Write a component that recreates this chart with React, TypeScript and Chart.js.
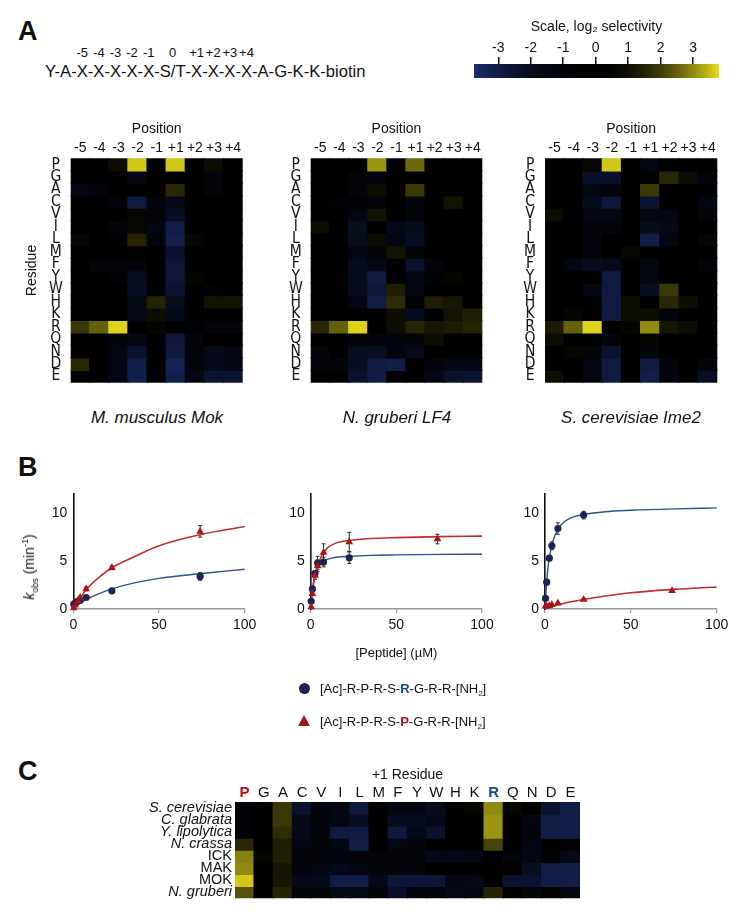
import React, { useEffect, useRef } from "react";
import { Chart, registerables } from "chart.js";
Chart.register(...registerables);

const SANS = "'Liberation Sans', Arial, Helvetica, sans-serif";
const NARROW = "'Liberation Sans Narrow', 'DejaVu Sans Condensed', 'Liberation Sans', sans-serif";

// ---------- Panel A data ----------
const POSITIONS = ["-5", "-4", "-3", "-2", "-1", "+1", "+2", "+3", "+4"];
const RESIDUES = ["P", "G", "A", "C", "V", "I", "L", "M", "F", "Y", "W", "H", "K", "R", "Q", "N", "D", "E"];

const MOK_VALUES = [
  [0, 0, 0.9, 3.6, 0, 3.6, 0, 0.9, 0],
  [0, 0, 0, -1.5, 0, 0, 0, -1.2, 0],
  [-1.5, -1.2, 0, 0, 0, 1.6, 0, -1.2, 0],
  [0, 0, -1.2, -2.9, -1.2, -1.7, 0, 0, 0],
  [0, 0, 0, 0.6, -1.2, -2.1, 0, 0, 0],
  [0, 0, -1.2, 0.6, -1.5, -3.0, 0, 0, 0],
  [0.6, 0, -0.8, 1.5, -1.2, -3.1, 0.6, 0, 0],
  [0, 0, 0, 0, 0, -2.4, 0, 0, 0],
  [0, -1.2, -1.2, -1.2, 0, -2.7, 0, 0, 0],
  [0, 0, -0.8, -2.1, 0, -2.7, 0.6, 0, 0],
  [0, 0, 0, -2.1, 0, -2.5, 0, -0.8, 0],
  [0, 0, 0, -1.7, 1.5, -1.9, 0, 1.1, 1.1],
  [0, 0, 0, -1.7, 0.9, -1.7, 0, 0, 0],
  [1.9, 2.5, 3.7, 0, 0.6, 0, -0.8, -1.2, -1.2],
  [0, 0, -1.2, -1.5, 0, -2.7, -1.2, 0, 0],
  [0, 0, -1.5, -2.4, 0, -2.8, -1.2, -1.7, -1.5],
  [1.6, 0, -1.5, -3.1, 0, -3.3, -1.2, -1.7, -1.5],
  [0, 0, -1.5, -3.1, 0, -3.1, -1.5, -2.5, -2.5],
];

const LF4_VALUES = [
  [0, 0, 0, 3.1, 0, 2.6, 0, 0, 0],
  [0, 0, -1.2, -1.2, 0, 0, 0, 0, 0],
  [0, 0, -1.2, 0.9, 0, 1.9, 0, 0, 0],
  [0, -0.8, -0.8, -1.2, 0, -1.2, 0, 1.1, 0],
  [0, 0, -1.5, 1.1, 0, -1.2, 0, 0, 0],
  [0.9, 0, -2.1, 0, -1.7, -1.9, 0, 0, 0],
  [0, 0, -1.9, 0.9, -1.5, -2.1, 0, 0, 0],
  [0, 0, -1.5, -1.2, 1.1, -1.2, 0, 0, 0],
  [0, 0, -1.9, -1.5, 0, -2.4, -1.2, 0, 0],
  [0, 0, -1.9, -2.9, 0, -1.5, -0.8, 0.6, 0],
  [0, 0, -1.9, -2.7, 1.4, -1.5, 0, 0, 0],
  [0, 0, -1.5, -3.0, 1.7, 0, 1.4, 1.2, 0],
  [0, 0, 0, 0, 0.9, -1.9, 0, 1.1, 1.4],
  [1.6, 2.5, 3.7, 0, 0.9, 1.5, 1.2, 1.3, 1.5],
  [0, 0, -1.2, -1.2, -1.2, -1.2, 0.9, 0, 0],
  [-1.2, 0, -1.9, -2.1, -1.2, -1.7, 0, 0, 0],
  [-1.2, -1.2, -2.1, -2.9, -3.0, 0, -1.2, -1.5, -1.5],
  [0, 0, -2.4, -2.9, 0, 0, -1.5, -2.4, -2.5],
];

const IME2_VALUES = [
  [0, 0, 0.6, 3.6, 0, -1.5, 0, 0, 0],
  [0, 0, -2.2, -2.2, 0, 0, 1.6, 0.9, -1.2],
  [0, 0, -1.5, -1.2, 0, 1.9, 0, 0, 0],
  [0, 0, -1.9, -2.7, 0, -2.5, 0, 0, -1.5],
  [0.9, 0, -1.5, -1.5, 0, -1.5, -1.5, 0, -1.2],
  [0, 0, -1.2, -1.2, 0, -1.9, -1.7, 0, 0],
  [0, 0, -1.2, 0, 0, -3.0, -1.5, 0, -1.2],
  [0, 0, -1.2, 0, 0.6, 0, 0, 0, 0],
  [0, -1.5, -1.9, -1.7, 0, -1.5, 0, 0, -1.2],
  [0, 0, 0, -2.9, 0, -1.5, 0, 0, 0],
  [0, 0, -1.5, -2.9, 0, -2.1, 1.9, 0, 0],
  [0, 0, 0, -2.9, 0.9, 0, 1.6, 0.9, 0],
  [0, 0.6, 0, -2.9, 0.9, 0.9, -1.2, 0, 0],
  [1.3, 2.5, 3.7, 0, 0.6, 3.0, 1.2, 0.9, 0],
  [0.9, 0, 0, -1.2, 0, 0.6, 0, 0, 0],
  [0, 0.6, -1.2, -2.4, 0, -1.2, 0, 0, 0],
  [0, 0, -1.5, -2.9, 0, -2.9, -1.2, 0, -1.2],
  [0.9, 0, -1.5, -2.9, 0, -3.0, -1.2, 0, -2.1],
];

const SCALE_TICKS = [-3, -2, -1, 0, 1, 2, 3];
const SCALE_MIN = -3.75;
const SCALE_MAX = 3.8;

const SEQ_TOKENS = ["Y", "A", "X", "X", "X", "X", "X", "S/T", "X", "X", "X", "X", "A", "G", "K", "K", "biotin"];
const SEQ_POSITIONS = ["", "", "-5", "-4", "-3", "-2", "-1", "0", "+1", "+2", "+3", "+4", "", "", "", "", ""];

// ---------- Panel B data ----------
const CONC = [0.3, 1, 2.5, 4, 7.5, 22.5, 74];
const FIT_X = [0, 1, 2, 3, 5, 7.5, 10, 15, 22.5, 35, 50, 75, 100];
const KOBS_TICKS = [0, 5, 10];
const CONC_TICKS = [0, 50, 100];

const MOK_R = [0.5, 0.6, 0.8, 0.9, 1.2, 1.9, 3.4];
const MOK_R_ERR = [0.05, 0.05, 0.1, 0.1, 0.15, 0.25, 0.4];
const MOK_P = [0.1, 0.4, 0.8, 1.2, 2.1, 4.3, 8.1];
const MOK_P_ERR = [0.05, 0.1, 0.1, 0.15, 0.2, 0.2, 0.6];
const MOK_R_FIT = [0.1, 0.25, 0.35, 0.5, 0.7, 1.0, 1.2, 1.6, 2.1, 2.7, 3.2, 3.7, 4.15];
const MOK_P_FIT = [0, 0.3, 0.6, 0.85, 1.4, 2.0, 2.5, 3.3, 4.3, 5.4, 6.6, 7.8, 8.6];

const LF4_R = [0.8, 2.1, 3.7, 4.8, 4.9, 5.35];
const LF4_R_ERR = [0.1, 0.2, 0.3, 0.7, 0.5, 0.6];
const LF4_P = [0.2, 1.6, 3.5, 4.5, 5.9, 7.0, 7.3];
const LF4_P_ERR = [0.05, 0.2, 0.4, 0.6, 0.9, 1.0, 0.5];
const LF4_R_FIT = [0, 2.0, 3.1, 3.8, 4.6, 5.0, 5.2, 5.4, 5.5, 5.6, 5.65, 5.7, 5.72];
const LF4_P_FIT = [0, 1.8, 3.0, 3.9, 5.0, 5.9, 6.4, 6.9, 7.15, 7.35, 7.45, 7.55, 7.6];

const IME2_R = [1.1, 2.8, 5.3, 6.6, 8.4, 9.8];
const IME2_R_ERR = [0.1, 0.2, 0.25, 0.4, 0.6, 0.4];
const IME2_P = [0.3, 0.3, 0.35, 0.45, 0.6, 1.0, 1.9];
const IME2_P_ERR = [0.05, 0.05, 0.05, 0.05, 0.1, 0.1, 0.15];
const IME2_R_FIT = [0, 2.9, 4.7, 5.8, 7.3, 8.3, 8.9, 9.5, 9.85, 10.15, 10.3, 10.45, 10.55];
const IME2_P_FIT = [0, 0.1, 0.15, 0.2, 0.3, 0.45, 0.55, 0.75, 1.0, 1.35, 1.7, 2.05, 2.3];

// ---------- Panel C data ----------
const SPECIES = ["S. cerevisiae", "C. glabrata", "Y. lipolytica", "N. crassa", "ICK", "MAK", "MOK", "N. gruberi"];
const SPECIES_ITALIC = [true, true, true, true, false, false, false, true];
const PLUS1_VALUES = [
  [-0.8, 0, 1.9, -2.4, -1.2, -1.5, -2.8, 0, -1.5, -1.5, -1.9, 0, 0.6, 3.0, 0.6, 0, -2.5, -3.0],
  [-0.8, 0, 1.9, -1.7, -1.2, -1.5, -2.1, 0, -1.9, -1.9, -1.7, 0, 0, 3.1, 0, -1.5, -3.0, -3.0],
  [-0.8, 0, 1.7, -1.7, -1.2, -2.9, -2.9, 0, -2.8, -1.7, -2.4, 0, 0, 3.1, 0, -1.2, -3.0, -3.0],
  [1.6, 0, 1.4, -1.5, -1.2, -1.5, -3.0, 0, -1.5, -1.2, 0, 0, 0, 2.1, 0, -1.5, 0, 0],
  [2.9, 0.6, 1.4, -1.2, -1.2, -1.2, -1.2, -1.2, -1.2, -1.2, -1.7, -1.7, -1.5, 0, -1.2, -1.5, -0.8, -1.7],
  [3.0, 0, 1.2, -1.2, -1.5, -1.7, -1.5, -1.2, -1.2, -1.2, 0, 0, 0, 0, 0, -2.1, -3.0, -3.0],
  [3.6, 0, 1.2, -1.7, -1.7, -3.0, -3.0, -1.7, -2.7, -2.7, -2.7, -1.5, -1.7, 0, -2.4, -2.4, -3.0, -3.0],
  [2.3, 0, 1.5, -1.2, -1.2, -1.7, -1.7, -1.2, -2.2, -1.2, -1.2, -1.7, -1.5, 1.5, 0, -1.2, 0, -1.5],
];

// ---------- colours ----------
const NEG_END = [25, 45, 110];
const POS_END = [232, 222, 28];
const RED = "#a5161a";
const RED_LINE = "#c42a2a";
const NAVY = "#1b2552";
const BLUE_LINE = "#304d8e";
const LABEL_RED = "#b3121b";
const LABEL_BLUE = "#1f4496";

function colorFor(v: number): string {
  const end = v >= 0 ? POS_END : NEG_END;
  const t = Math.min(1, v >= 0 ? v / SCALE_MAX : v / SCALE_MIN);
  const k = t * t;
  return `rgb(${Math.round(end[0] * k)},${Math.round(end[1] * k)},${Math.round(end[2] * k)})`;
}

// ---------- plugins ----------
const errorBarPlugin = {
  id: "errorBars",
  beforeDatasetsDraw(chart: any) {
    const { ctx } = chart;
    const ys = chart.scales.y;
    chart.data.datasets.forEach((ds: any, di: number) => {
      if (!ds.errors) return;
      const meta = chart.getDatasetMeta(di);
      ctx.save();
      ctx.strokeStyle = "#2a2a2a";
      ctx.lineWidth = 1;
      meta.data.forEach((pt: any, i: number) => {
        const e = ds.errors[i];
        if (!e) return;
        const v = ds.data[i].y;
        const y1 = ys.getPixelForValue(v + e);
        const y2 = ys.getPixelForValue(v - e);
        const x = pt.x;
        ctx.beginPath();
        ctx.moveTo(x, y1);
        ctx.lineTo(x, y2);
        ctx.moveTo(x - 2, y1);
        ctx.lineTo(x + 2, y1);
        ctx.moveTo(x - 2, y2);
        ctx.lineTo(x + 2, y2);
        ctx.stroke();
      });
      ctx.restore();
    });
  },
};

// ---------- chart builders ----------
function heatmapConfig(o: {
  cols: string[];
  rows: string[];
  values: number[][];
  yWidth: number;
  xHeight: number;
  padRight: number;
  padBottom: number;
  xTitle?: string;
  xTitlePad: number;
  xFont: any;
  xColor?: any;
  xPad: number;
  yTitle?: string;
  yFont: any;
  yPad: number;
  yAlign: string;
}) {
  const datasets = o.rows.map((r, i) => ({
    label: r,
    data: o.cols.map(() => [i - 0.5, i + 0.5]),
    backgroundColor: o.values[i].map(colorFor),
    borderWidth: 0,
    inflateAmount: 0.7,
    barPercentage: 1,
    categoryPercentage: 1,
    grouped: false,
  }));
  return {
    type: "bar",
    data: { labels: o.cols, datasets },
    options: {
      animation: false,
      responsive: false,
      events: [],
      layout: { padding: { left: 0, top: 0, right: o.padRight, bottom: o.padBottom } },
      plugins: { legend: { display: false }, tooltip: { enabled: false } },
      scales: {
        x: {
          type: "category",
          position: "top",
          grid: { display: false, drawTicks: false },
          border: { display: false },
          ticks: { autoSkip: false, maxRotation: 0, minRotation: 0, padding: o.xPad, font: o.xFont, color: o.xColor || "#111" },
          title: o.xTitle
            ? { display: true, text: o.xTitle, color: "#111", font: { family: SANS, size: 14 }, padding: { top: o.xTitlePad, bottom: 0 } }
            : { display: false },
          afterFit: (s: any) => {
            s.height = o.xHeight;
          },
        },
        y: {
          type: "linear",
          min: -0.5,
          max: o.rows.length - 0.5,
          reverse: true,
          grid: { display: false, drawTicks: false },
          border: { display: false },
          afterBuildTicks: (s: any) => {
            s.ticks = o.rows.map((_, i) => ({ value: i }));
          },
          ticks: {
            autoSkip: false,
            crossAlign: o.yAlign,
            padding: o.yPad,
            font: o.yFont,
            color: "#111",
            callback: (v: any) => o.rows[Math.round(v)],
          },
          title: o.yTitle
            ? { display: true, text: o.yTitle, color: "#111", font: { family: SANS, size: 14 }, padding: { top: 23.5, bottom: 0 } }
            : { display: false },
          afterFit: (s: any) => {
            s.width = o.yWidth;
          },
        },
      },
    },
  };
}

function kineticsConfig(o: {
  rY: number[];
  rErr: number[];
  pY: number[];
  pErr: number[];
  rFit: number[];
  pFit: number[];
  yWidth: number;
  padRight: number;
  xTitle?: string;
}) {
  return {
    type: "scatter",
    data: {
      datasets: [
        {
          data: CONC.slice(0, o.pY.length).map((x, i) => ({ x, y: o.pY[i] })),
          pointStyle: "triangle",
          pointRadius: 4.5,
          backgroundColor: RED,
          borderColor: RED,
          borderWidth: 0,
          errors: o.pErr,
          clip: false,
        },
        {
          data: CONC.slice(0, o.rY.length).map((x, i) => ({ x, y: o.rY[i] })),
          pointStyle: "circle",
          pointRadius: 3.6,
          backgroundColor: NAVY,
          borderColor: NAVY,
          borderWidth: 0,
          errors: o.rErr,
          clip: false,
        },
        {
          data: FIT_X.map((x, i) => ({ x, y: o.pFit[i] })),
          showLine: true,
          borderColor: RED_LINE,
          borderWidth: 1.6,
          pointRadius: 0,
          cubicInterpolationMode: "monotone",
          clip: false,
        },
        {
          data: FIT_X.map((x, i) => ({ x, y: o.rFit[i] })),
          showLine: true,
          borderColor: BLUE_LINE,
          borderWidth: 1.4,
          pointRadius: 0,
          cubicInterpolationMode: "monotone",
          clip: false,
        },
      ],
    },
    options: {
      animation: false,
      responsive: false,
      events: [],
      layout: { padding: { left: 0, top: 24, right: o.padRight, bottom: 0 } },
      plugins: { legend: { display: false }, tooltip: { enabled: false } },
      scales: {
        x: {
          type: "linear",
          min: 0,
          max: 100,
          afterBuildTicks: (s: any) => {
            s.ticks = CONC_TICKS.map((v) => ({ value: v }));
          },
          ticks: { maxRotation: 0, padding: 3.6, color: "#111", font: { family: SANS, size: 14 } },
          grid: { display: true, drawOnChartArea: false, drawTicks: true, tickLength: 4, color: "#9a9a9a", lineWidth: 1.2 },
          border: { display: true, color: "#9a9a9a", width: 1.6 },
          title: o.xTitle
            ? { display: true, text: o.xTitle, color: "#111", font: { family: SANS, size: 13 }, padding: { top: 0, bottom: 4.2 } }
            : { display: false },
          afterFit: (s: any) => {
            s.height = 56;
          },
        },
        y: {
          type: "linear",
          min: 0,
          max: 12,
          afterBuildTicks: (s: any) => {
            s.ticks = KOBS_TICKS.map((v) => ({ value: v }));
          },
          ticks: { padding: 6, color: "#111", font: { family: SANS, size: 14 } },
          grid: { display: true, drawOnChartArea: false, drawTicks: false },
          border: { display: true, color: "#111", width: 1.6 },
          afterFit: (s: any) => {
            s.width = o.yWidth;
          },
        },
      },
    },
    plugins: [errorBarPlugin],
  };
}

function colorbarConfig() {
  return {
    type: "bar",
    data: {
      labels: [""],
      datasets: [
        {
          data: [[SCALE_MIN, SCALE_MAX]],
          barPercentage: 1,
          categoryPercentage: 1,
          borderWidth: 0,
          backgroundColor: (c: any) => {
            const chart = c.chart;
            const area = chart.chartArea;
            if (!area) return "#000";
            const g = chart.ctx.createLinearGradient(area.left, 0, area.right, 0);
            const n = 40;
            for (let k = 0; k <= n; k++) {
              g.addColorStop(k / n, colorFor(SCALE_MIN + ((SCALE_MAX - SCALE_MIN) * k) / n));
            }
            return g;
          },
        },
      ],
    },
    options: {
      indexAxis: "y",
      animation: false,
      responsive: false,
      events: [],
      layout: { padding: { left: 34, right: 21, top: 0, bottom: 12 } },
      plugins: { legend: { display: false }, tooltip: { enabled: false } },
      scales: {
        x: {
          type: "linear",
          position: "top",
          min: SCALE_MIN,
          max: SCALE_MAX,
          afterBuildTicks: (s: any) => {
            s.ticks = SCALE_TICKS.map((v) => ({ value: v }));
          },
          ticks: { maxRotation: 0, padding: 0.6, color: "#111", font: { family: SANS, size: 14 } },
          grid: { display: true, drawOnChartArea: false, drawTicks: true, tickLength: 7, color: "#111", lineWidth: 1.5 },
          border: { display: false },
          title: {
            display: true,
            text: "Scale, log\u2082 selectivity",
            color: "#111",
            font: { family: SANS, size: 14 },
            padding: { top: 8.6, bottom: 0 },
          },
          afterFit: (s: any) => {
            s.height = 54;
          },
        },
        y: { display: false },
      },
    },
  };
}

// ---------- components ----------
function ChartCanvas({ x, y, w, h, make }: { x: number; y: number; w: number; h: number; make: () => any }) {
  const ref = useRef<HTMLCanvasElement | null>(null);
  useEffect(() => {
    if (!ref.current) return;
    const chart = new Chart(ref.current, make());
    return () => chart.destroy();
  }, []);
  return (
    <canvas
      ref={ref}
      width={w}
      height={h}
      style={{ position: "absolute", left: x, top: y, width: w, height: h }}
    />
  );
}

function Txt({
  x,
  y,
  size,
  children,
  align = "center",
  style = {},
}: {
  x: number;
  y: number;
  size: number;
  children: any;
  align?: string;
  style?: any;
}) {
  const tx = align === "left" ? "0" : align === "right" ? "-100%" : "-50%";
  return (
    <div
      style={{
        position: "absolute",
        left: x,
        top: y,
        transform: `translate(${tx}, -50%)`,
        fontSize: size,
        lineHeight: 1,
        whiteSpace: "nowrap",
        ...style,
      }}
    >
      {children}
    </div>
  );
}

const rowFont = { family: NARROW, size: 15.5 };
const colFont = { family: SANS, size: 14 };

export default function App() {
  return (
    <div
      style={{
        position: "absolute",
        left: 0,
        top: 0,
        width: 750,
        height: 918,
        background: "#fff",
        fontFamily: SANS,
        color: "#111",
        overflow: "hidden",
      }}
    >
      {/* Panel letters */}
      <Txt x={18} y={31} size={27} align="left" style={{ fontWeight: 700 }}>A</Txt>
      <Txt x={18} y={467} size={27} align="left" style={{ fontWeight: 700 }}>B</Txt>
      <Txt x={18} y={771} size={27} align="left" style={{ fontWeight: 700 }}>C</Txt>

      {/* Peptide library sequence */}
      <Txt x={45} y={72} size={16.6} align="left">
        {SEQ_TOKENS.map((tok, i) => (
          <React.Fragment key={i}>
            {i > 0 ? "-" : ""}
            <span style={{ position: "relative" }}>
              {tok}
              {SEQ_POSITIONS[i] ? (
                <span
                  style={{
                    position: "absolute",
                    left: "50%",
                    bottom: "100%",
                    transform: "translate(-50%, -3px)",
                    fontSize: 13,
                    lineHeight: 1,
                  }}
                >
                  {SEQ_POSITIONS[i]}
                </span>
              ) : null}
            </span>
          </React.Fragment>
        ))}
      </Txt>

      {/* Colour scale */}
      <ChartCanvas x={440} y={10} w={300} h={80} make={colorbarConfig} />

      {/* Panel A heatmaps */}
      <ChartCanvas
        x={0}
        y={110}
        w={260}
        h={290}
        make={() =>
          heatmapConfig({
            cols: POSITIONS,
            rows: RESIDUES,
            values: MOK_VALUES,
            yWidth: 70.7,
            xHeight: 48.3,
            padRight: 17.3,
            padBottom: 17,
            xTitle: "Position",
            xTitlePad: 10.6,
            xFont: colFont,
            xPad: 1.9,
            yTitle: "Residue",
            yFont: rowFont,
            yPad: 8,
            yAlign: "center",
          })
        }
      />
      <ChartCanvas
        x={240}
        y={110}
        w={260}
        h={290}
        make={() =>
          heatmapConfig({
            cols: POSITIONS,
            rows: RESIDUES,
            values: LF4_VALUES,
            yWidth: 70.7,
            xHeight: 48.3,
            padRight: 17.7,
            padBottom: 17,
            xTitle: "Position",
            xTitlePad: 10.6,
            xFont: colFont,
            xPad: 1.9,
            yFont: rowFont,
            yPad: 8,
            yAlign: "center",
          })
        }
      />
      <ChartCanvas
        x={475}
        y={110}
        w={260}
        h={290}
        make={() =>
          heatmapConfig({
            cols: POSITIONS,
            rows: RESIDUES,
            values: IME2_VALUES,
            yWidth: 70,
            xHeight: 48.3,
            padRight: 17.7,
            padBottom: 17,
            xTitle: "Position",
            xTitlePad: 10.6,
            xFont: colFont,
            xPad: 1.9,
            yFont: rowFont,
            yPad: 8,
            yAlign: "center",
          })
        }
      />
      <Txt x={157} y={417} size={17} style={{ fontStyle: "italic" }}>M. musculus Mok</Txt>
      <Txt x={397} y={417} size={17} style={{ fontStyle: "italic" }}>N. gruberi LF4</Txt>
      <Txt x={631} y={417} size={17} style={{ fontStyle: "italic" }}>S. cerevisiae Ime2</Txt>

      {/* Panel B kinetics */}
      <ChartCanvas
        x={0}
        y={470}
        w={260}
        h={195}
        make={() =>
          kineticsConfig({
            rY: MOK_R,
            rErr: MOK_R_ERR,
            pY: MOK_P,
            pErr: MOK_P_ERR,
            rFit: MOK_R_FIT,
            pFit: MOK_P_FIT,
            yWidth: 73.3,
            padRight: 15,
          })
        }
      />
      <ChartCanvas
        x={240}
        y={470}
        w={260}
        h={195}
        make={() =>
          kineticsConfig({
            rY: LF4_R,
            rErr: LF4_R_ERR,
            pY: LF4_P,
            pErr: LF4_P_ERR,
            rFit: LF4_R_FIT,
            pFit: LF4_P_FIT,
            yWidth: 70.7,
            padRight: 18,
            xTitle: "[Peptide] (\u00b5M)",
          })
        }
      />
      <ChartCanvas
        x={475}
        y={470}
        w={265}
        h={195}
        make={() =>
          kineticsConfig({
            rY: IME2_R,
            rErr: IME2_R_ERR,
            pY: IME2_P,
            pErr: IME2_P_ERR,
            rFit: IME2_R_FIT,
            pFit: IME2_P_FIT,
            yWidth: 70,
            padRight: 23.3,
          })
        }
      />
      <Txt x={29} y={567} size={14} style={{ transform: "translate(-50%, -50%) rotate(-90deg)" }}>
        <i>k</i>
        <sub style={{ fontSize: 9, lineHeight: 0 }}>obs</sub> (min<sup style={{ fontSize: 9, lineHeight: 0 }}>-1</sup>)
      </Txt>

      {/* Legend */}
      <div
        style={{
          position: "absolute",
          left: 298.5,
          top: 682.5,
          width: 11,
          height: 11,
          borderRadius: "50%",
          background: NAVY,
        }}
      />
      <Txt x={320} y={688} size={13} align="left">
        [Ac]-R-P-R-S-<b style={{ color: LABEL_BLUE }}>R</b>-G-R-R-[NH<sub style={{ fontSize: 8, lineHeight: 0 }}>2</sub>]
      </Txt>
      <div
        style={{
          position: "absolute",
          left: 298,
          top: 715,
          width: 12,
          height: 11,
          background: RED,
          clipPath: "polygon(50% 0, 100% 100%, 0 100%)",
        }}
      />
      <Txt x={320} y={721} size={13} align="left">
        [Ac]-R-P-R-S-<b style={{ color: LABEL_RED }}>P</b>-G-R-R-[NH<sub style={{ fontSize: 8, lineHeight: 0 }}>2</sub>]
      </Txt>

      {/* Panel C heatmap */}
      <ChartCanvas
        x={100}
        y={760}
        w={500}
        h={150}
        make={() =>
          heatmapConfig({
            cols: RESIDUES,
            rows: SPECIES,
            values: PLUS1_VALUES,
            yWidth: 135,
            xHeight: 42,
            padRight: 20,
            padBottom: 7,
            xTitle: "+1 Residue",
            xTitlePad: 6.6,
            xFont: (c: any) => ({
              family: SANS,
              size: 15,
              weight: RESIDUES[c.index] === "P" || RESIDUES[c.index] === "R" ? "bold" : "normal",
            }),
            xColor: (c: any) =>
              RESIDUES[c.index] === "P" ? LABEL_RED : RESIDUES[c.index] === "R" ? LABEL_BLUE : "#111",
            xPad: 0.5,
            yFont: (c: any) => ({
              family: SANS,
              size: 14.5,
              style: SPECIES_ITALIC[c.index] ? "italic" : "normal",
            }),
            yPad: 3,
            yAlign: "near",
          })
        }
      />
    </div>
  );
}
